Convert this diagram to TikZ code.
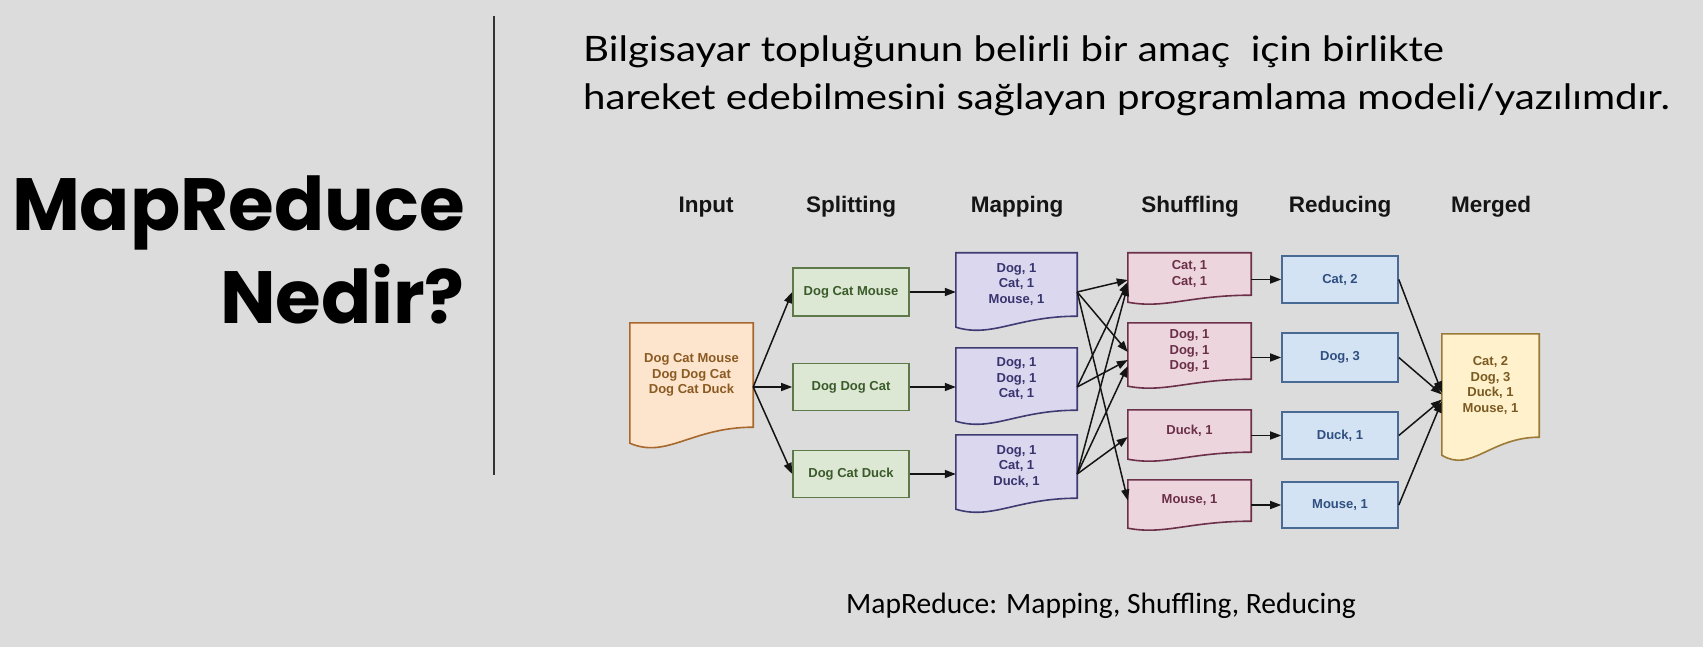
\documentclass[tikz,border=0pt]{standalone}
\usepackage{fontspec}
\setmainfont{Liberation Sans}
\newfontfamily\headfont{Poppins}
\newfontfamily\leadfont[FakeStretch=1.15]{Lato}
\newfontfamily\capfont{Carlito}
\usetikzlibrary{arrows.meta,calc}

\definecolor{bgc}{HTML}{DCDCDC}
\definecolor{infill}{HTML}{FDE5CD}
\definecolor{inline}{HTML}{A8672C}
\definecolor{intext}{HTML}{8A5A22}
\definecolor{splitfill}{HTML}{DCE8D4}
\definecolor{splitline}{HTML}{5E7A4A}
\definecolor{splittext}{HTML}{3B5B2A}
\definecolor{mapfill}{HTML}{DAD7EF}
\definecolor{mapline}{HTML}{3E3A72}
\definecolor{maptext}{HTML}{38346E}
\definecolor{shfill}{HTML}{ECD5DD}
\definecolor{shline}{HTML}{6C3049}
\definecolor{shtext}{HTML}{6B2F47}
\definecolor{redfill}{HTML}{D4E3F3}
\definecolor{redline}{HTML}{4A6A96}
\definecolor{redtext}{HTML}{2F4F80}
\definecolor{mgfill}{HTML}{FFF1CC}
\definecolor{mgline}{HTML}{9A7A36}
\definecolor{mgtext}{HTML}{7A5A22}

\pgfdeclarelayer{canvas}
\pgfdeclarelayer{docs}
\pgfsetlayers{canvas,docs,main}

% document shape: straight top and sides, wavy bottom edge below the node's box
\newcommand\wavedoc[3]{%
  \begin{pgfonlayer}{docs}
  \draw[#3] let \p1=(#1.south west), \p2=(#1.north east), \n1={\x2-\x1} in
    (\x1,\y2) -- (\x2,\y2) -- (\x2,\y1)
    .. controls (\x2-0.5*\n1,\y1) and (\x1+0.3*\n1,\y1-2*#2) .. (\x1,\y1-#2) -- cycle;
  \end{pgfonlayer}}

\tikzset{
  boxtext/.style={font=\bfseries\fontsize{13}{15.5}\selectfont, align=center, inner sep=0pt},
  stage/.style={font=\bfseries\fontsize{22.5}{26}\selectfont, text=black!92},
  plainbox/.style={boxtext, draw, line width=1.6pt, minimum width=116pt, minimum height=47pt},
  splitbox/.style={plainbox, fill=splitfill, draw=splitline, text=splittext},
  reducebox/.style={plainbox, fill=redfill, draw=redline, text=redtext},
  docbox/.style={boxtext, minimum width=#1},
  mapdoc/.style={fill=mapfill, draw=mapline, line width=1.6pt},
  shdoc/.style={fill=shfill, draw=shline, line width=1.6pt},
  flow/.style={line width=1.5pt, draw=black!92, -{Triangle[length=11pt,width=8pt]}},
}

\begin{document}
\begin{tikzpicture}[x=1pt,y=-1pt]
\begin{pgfonlayer}{canvas}
  \fill[bgc] (0,0) rectangle (1703,647);
\end{pgfonlayer}
\useasboundingbox (0,0) rectangle (1703,647);

% title block
\node[anchor=base east, font=\headfont\bfseries\fontsize{74}{80}\selectfont, inner sep=0pt] (title1) at (465,231) {MapReduce};
\node[anchor=base east, font=\headfont\bfseries\fontsize{74}{80}\selectfont, inner sep=0pt] (title2) at (465,323) {Nedir?};
\coordinate (rtop) at (494,16);
\coordinate (rbot) at (494,475);
\draw[line width=1.5pt, black!80] (rtop) -- (rbot);

% lead text
\node[anchor=base west, font=\leadfont\fontsize{35}{40}\selectfont, inner sep=0pt] (lead1) at (583,62) {Bilgisayar topluğunun belirli bir amaç \ için birlikte};
\node[anchor=base west, font=\leadfont\fontsize{35}{40}\selectfont, inner sep=0pt] (lead2) at (583,110) {hareket edebilmesini sağlayan programlama modeli/yazılımdır.};

% column headers
\node[stage] (hin) at (706,207) {Input};
\node[stage] (hsp) at (851,207) {Splitting};
\node[stage] (hmp) at (1017,207) {Mapping};
\node[stage] (hsh) at (1190,207) {Shuffling};
\node[stage] (hrd) at (1340,207) {Reducing};
\node[stage] (hmg) at (1491,207) {Merged};

% input
\node[docbox=123pt, minimum height=104pt, text=intext] (in) at (691.5,375) {Dog Cat Mouse\\Dog Dog Cat\\Dog Cat Duck};
\wavedoc{in}{16pt}{fill=infill, draw=inline, line width=1.6pt}

% splitting
\node[splitbox, minimum height=48pt] (s1) at (851,292) {Dog Cat Mouse};
\node[splitbox] (s2) at (851,387) {Dog Dog Cat};
\node[splitbox] (s3) at (851,474) {Dog Cat Duck};

% mapping
\node[docbox=121pt, minimum height=63pt, text=maptext] (m1) at (1016.5,284.5) {Dog, 1\\Cat, 1\\Mouse, 1};
\node[docbox=121pt, minimum height=62pt, text=maptext] (m2) at (1016.5,379) {Dog, 1\\Dog, 1\\Cat, 1};
\node[docbox=121pt, minimum height=63pt, text=maptext] (m3) at (1016.5,466.5) {Dog, 1\\Cat, 1\\Duck, 1};
\wavedoc{m1}{11pt}{mapdoc}
\wavedoc{m2}{11pt}{mapdoc}
\wavedoc{m3}{11pt}{mapdoc}

% shuffling
\node[docbox=123pt, minimum height=42pt, text=shtext] (h1) at (1189.5,274) {Cat, 1\\Cat, 1};
\node[docbox=123pt, minimum height=56pt, text=shtext] (h2) at (1189.5,351) {Dog, 1\\Dog, 1\\Dog, 1};
\node[docbox=123pt, minimum height=42pt, text=shtext] (h3) at (1189.5,431) {Duck, 1};
\node[docbox=123pt, minimum height=41pt, text=shtext] (h4) at (1189.5,500.5) {Mouse, 1};
\wavedoc{h1}{7pt}{shdoc}
\wavedoc{h2}{7pt}{shdoc}
\wavedoc{h3}{7pt}{shdoc}
\wavedoc{h4}{7pt}{shdoc}

% reducing
\node[reducebox] (r1) at (1340,279.5) {Cat, 2};
\node[reducebox, minimum height=49pt] (r2) at (1340,357.5) {Dog, 3};
\node[reducebox] (r3) at (1340,435.5) {Duck, 1};
\node[reducebox, minimum height=46pt] (r4) at (1340,505) {Mouse, 1};

% merged
\node[docbox=97pt, minimum height=103pt, text=mgtext] (mg) at (1490.5,385.5) {Cat, 2\\Dog, 3\\Duck, 1\\Mouse, 1};
\wavedoc{mg}{18pt}{fill=mgfill, draw=mgline, line width=1.6pt}

% input -> splitting
\draw[flow] ([yshift=-12pt]in.east) -- (s1.west);
\draw[flow] ([yshift=-12pt]in.east) -- (s2.west);
\draw[flow] ([yshift=-12pt]in.east) -- (s3.west);

% splitting -> mapping
\draw[flow] (s1.east) -- (s1.east -| m1.west);
\draw[flow] (s2.east) -- (s2.east -| m2.west);
\draw[flow] (s3.east) -- (s3.east -| m3.west);

% mapping -> shuffling
\draw[flow] (s1.east -| m1.east) -- ([yshift=-6pt]h1.west);
\draw[flow] (s1.east -| m1.east) -- ([yshift=-1pt]h2.west);
\draw[flow] (s1.east -| m1.east) -- (h4.west);
\draw[flow] (s2.east -| m2.east) -- ([yshift=-8pt]h1.west);
\draw[flow] (s2.east -| m2.east) -- ([yshift=-9pt]h2.west);
\draw[flow] (s3.east -| m3.east) -- ([yshift=-11pt]h1.west);
\draw[flow] (s3.east -| m3.east) -- ([yshift=-15pt]h2.west);
\draw[flow] (s3.east -| m3.east) -- ([yshift=-6pt]h3.west);

% shuffling -> reducing
\draw[flow] (r1.west -| h1.east) -- (r1.west);
\draw[flow] (r2.west -| h2.east) -- (r2.west);
\draw[flow] (r3.west -| h3.east) -- (r3.west);
\draw[flow] (r4.west -| h4.east) -- (r4.west);

% reducing -> merged
\draw[flow] (r1.east) -- ([yshift=-7pt]mg.west);
\draw[flow] (r2.east) -- ([yshift=-9pt]mg.west);
\draw[flow] (r3.east) -- ([yshift=-14pt]mg.west);
\draw[flow] (r4.east) -- ([yshift=-16pt]mg.west);

% caption
\node[anchor=base, font=\capfont\fontsize{29.5}{33}\selectfont, inner sep=0pt] (cap) at (1101,613) {MapReduce: Mapping, Shuffling, Reducing};
\end{tikzpicture}
\end{document}
